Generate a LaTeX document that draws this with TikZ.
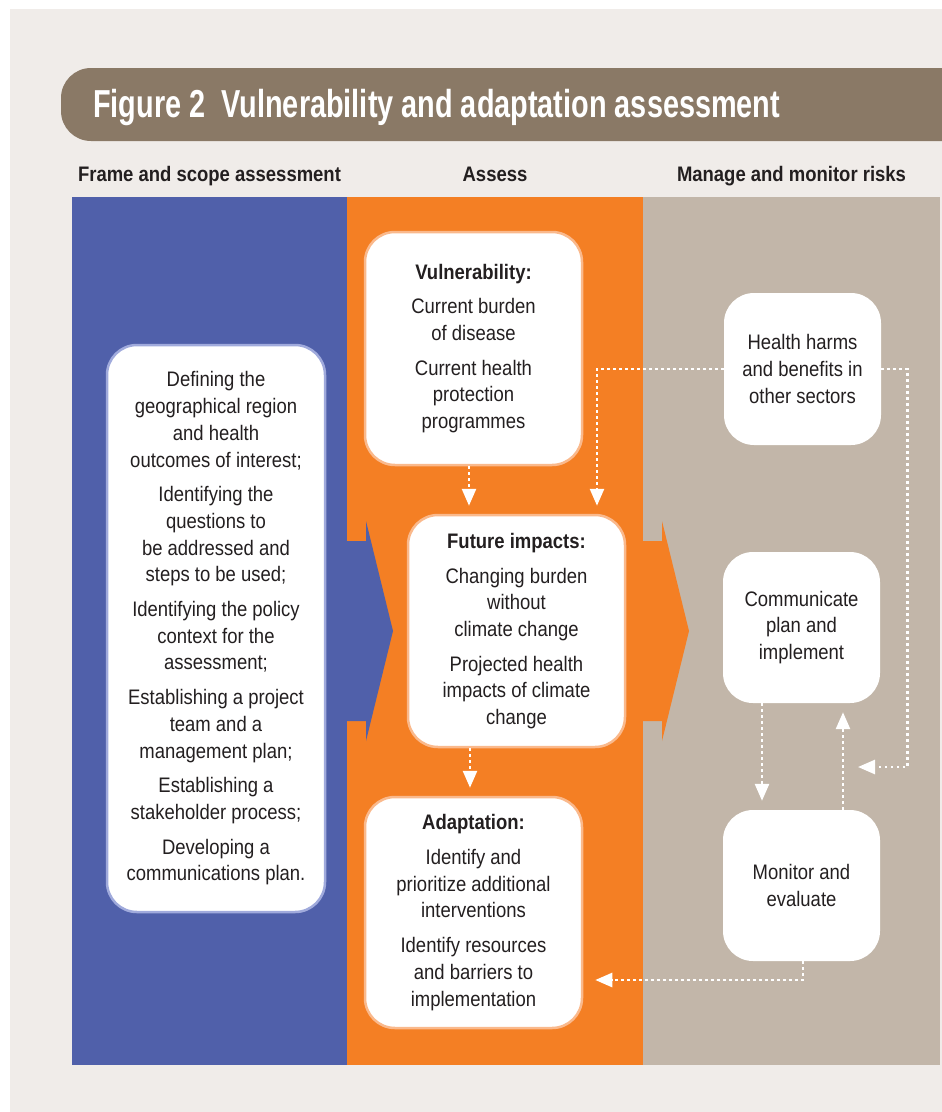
\documentclass[tikz,border=0pt]{standalone}
\usepackage{fontspec}
\setmainfont{Liberation Sans}[FakeStretch=0.88]
\newfontfamily\titlefont{Liberation Sans}[FakeStretch=0.74]
\usetikzlibrary{arrows.meta}
\definecolor{pagebg}{RGB}{240,236,233}
\definecolor{barbrown}{RGB}{138,121,102}
\definecolor{frameblue}{RGB}{80,96,170}
\definecolor{assessorange}{RGB}{244,127,36}
\definecolor{managetan}{RGB}{194,182,169}
\definecolor{ink}{RGB}{35,31,32}
\definecolor{blueedge}{RGB}{160,170,220}
\definecolor{orangeedge}{RGB}{250,185,140}

\begin{document}
\begin{tikzpicture}[x=1pt, y=-1pt,
		txt/.style={font=\fontsize{21}{26.7}\selectfont, text=ink, align=center},
		head/.style={font=\bfseries\fontsize{21}{25}\selectfont, text=ink, anchor=base},
		card/.style={txt, fill=white, rounded corners=30pt, inner sep=0pt},
		bluecard/.style={card, draw=blueedge, line width=2.5pt, minimum width=218pt},
		orangecard/.style={card, draw=orangeedge, line width=2.5pt, minimum width=217pt},
		tancard/.style={card, minimum width=157pt, minimum height=151pt},
		flow/.style={draw=white, line width=2.6pt, dash pattern=on 2.6pt off 3.4pt, -{Triangle[width=14pt,length=17pt]}}]
	\useasboundingbox (0,0) rectangle (942,1112);
	\fill[white] (0,0) rectangle (942,1112);
	\fill[pagebg] (10,9) rectangle (942,1112);
	% title bar
	\begin{scope}
		\clip (0,0) rectangle (942,1112);
		\fill[barbrown, rounded corners=30pt] (61,68) rectangle (990,141);
	\end{scope}
	\node[anchor=base west, text=white, font=\titlefont\bfseries\fontsize{39}{44}\selectfont, inner sep=0pt] (title) at (93,117) {Figure 2\ \ Vulnerability and adaptation assessment};
	\node[head] (framehd) at (209.5,181.5) {Frame and scope assessment};
	\node[head] (assesshd) at (495,181.5) {Assess};
	\node[head] (managehd) at (791.5,181.5) {Manage and monitor risks};
	% columns and chevrons
	\foreach \xa/\xb/\col in {72/347/frameblue, 347/643/assessorange, 643/940/managetan}
		\fill[\col] (\xa,197) rectangle (\xb,1065);
	\foreach \xa/\col in {347/frameblue, 643/assessorange}
		\fill[\col] (\xa,541) -- ++(19,0) -- ++(0,-20) -- ++(27,110) -- ++(-27,110) -- ++(0,-20) -- ++(-19,0) -- cycle;
	% boxes
	\node[bluecard, minimum height=567pt] (scope) at (216,628.5) {Defining the\\geographical region\\and health\\outcomes of interest;\\[8pt]Identifying the\\questions to\\be addressed and\\steps to be used;\\[8pt]Identifying the policy\\context for the\\assessment;\\[8pt]Establishing a project\\team and a\\management plan;\\[8pt]Establishing a\\stakeholder process;\\[8pt]Developing a\\communications plan.};
	\node[orangecard, minimum height=233pt] (vuln) at (473.5,348.5) {{\bfseries Vulnerability:}\\[8pt]Current burden\\of disease\\[8pt]Current health\\protection\\programmes};
	\node[orangecard, minimum height=232pt] (future) at (516.5,631) {{\bfseries Future impacts:}\\[8pt]Changing burden\\without\\climate change\\[8pt]Projected health\\impacts of climate\\change};
	\node[orangecard, minimum height=231pt] (adapt) at (473.5,912.5) {{\bfseries Adaptation:}\\[8pt]Identify and\\prioritize additional\\interventions\\[8pt]Identify resources\\and barriers to\\implementation};
	\node[tancard, minimum height=152pt] (harms) at (802.5,369) {Health harms\\and benefits in\\other sectors};
	\node[tancard] (comm) at (801.5,627.5) {Communicate\\plan and\\implement};
	\node[tancard] (monitor) at (801.5,885.5) {Monitor and\\evaluate};
	% dotted links
	\coordinate (loopin) at (858,767);
	\draw[flow, shorten >=8pt] ([xshift=-4.5pt]vuln.south) -- ([xshift=-47.5pt]future.north);
	\draw[flow, shorten >=8pt] ([xshift=-46.5pt]future.south) -- ([xshift=-3.5pt]adapt.north);
	\draw[flow, shorten >=8pt] (harms.west) -| ([xshift=80.5pt]future.north);
	\draw[flow] (harms.east) -- ++(26,0) |- (loopin);
	\draw[flow, shorten >=9pt] ([xshift=-39.5pt]comm.south) -- ([xshift=-39.5pt]monitor.north);
	\draw[flow, shorten >=9pt] ([xshift=41.5pt]monitor.north) -- ([xshift=41.5pt]comm.south);
	\draw[flow, shorten >=12pt] ([xshift=1.5pt]monitor.south) |- ([yshift=-67.5pt]adapt.east);
\end{tikzpicture}
\end{document}
